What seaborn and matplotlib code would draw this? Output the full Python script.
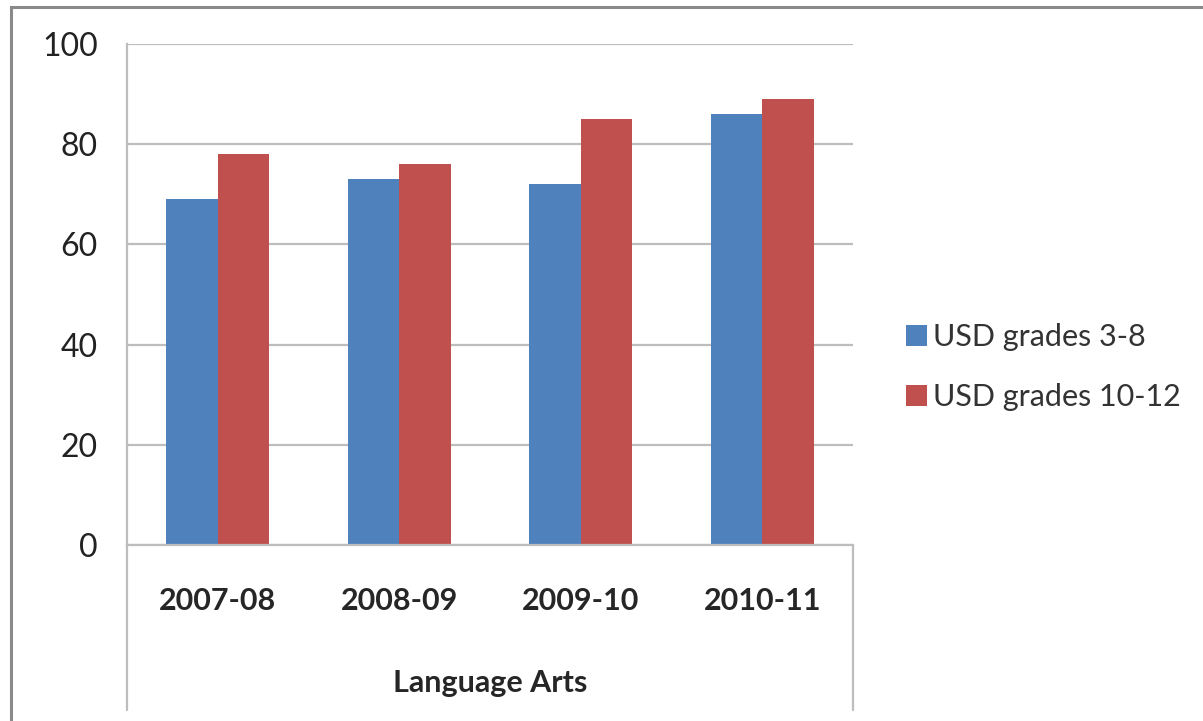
import pandas as pd
import numpy as np
import matplotlib
matplotlib.use("Agg")
import matplotlib.pyplot as plt
import seaborn as sns
from matplotlib.patches import Rectangle

# Data
YEARS = ["2007-08", "2008-09", "2009-10", "2010-11"]
SERIES = ["USD grades 3-8", "USD grades 10-12"]
GRADES_3_8 = [69, 73, 72, 86]
GRADES_10_12 = [78, 76, 85, 89]
COLORS = ["#4F81BD", "#C0504D"]
GROUP_LABEL = "Language Arts"

OUT_FILE = "out.png"

if __name__ == "__main__":
    sns.set_style("white")
    plt.rcParams["font.family"] = ["Lato", "DejaVu Sans"]

    df = pd.DataFrame({
        "Year": YEARS * 2,
        "Series": [SERIES[0]] * len(YEARS) + [SERIES[1]] * len(YEARS),
        "Score": GRADES_3_8 + GRADES_10_12,
    })

    fig = plt.figure(figsize=(12.03, 7.21), dpi=100)
    ax = fig.add_axes([127 / 1203, 1 - 545 / 721, (853 - 127) / 1203, (545 - 44) / 721])

    sns.barplot(data=df, x="Year", y="Score", hue="Series", order=YEARS,
                hue_order=SERIES, palette=COLORS, saturation=1, width=0.567,
                edgecolor="none", linewidth=0, ax=ax, legend=True)

    ax.set_xlim(-0.5, len(YEARS) - 0.5)
    ax.set_ylim(0, 100)
    ax.set_yticks(np.arange(0, 101, 20))
    ax.yaxis.grid(True, color="#BDBDBD", linewidth=1.6)
    ax.set_axisbelow(True)
    for side in ["top", "right"]:
        ax.spines[side].set_visible(False)
    for side in ["left", "bottom"]:
        ax.spines[side].set_color("#BDBDBD")
        ax.spines[side].set_linewidth(1.6)

    ax.tick_params(axis="y", length=0, pad=21, labelsize=23, labelcolor="#222222")
    ax.tick_params(axis="x", length=0, pad=30, labelsize=22)
    for lbl in ax.get_xticklabels():
        lbl.set_fontweight("bold")
    ax.set_xlabel("")
    ax.set_ylabel("")

    # outer category bracket lines
    for xv in [0, 1]:
        ax.plot([xv, xv], [0, -0.33], transform=ax.transAxes, color="#BDBDBD",
                linewidth=1.6, clip_on=False)
    ax.text(0.5, -0.276, GROUP_LABEL, transform=ax.transAxes, ha="center",
            va="center", fontsize=22, fontweight="bold")

    leg = ax.legend(loc="center left", bbox_to_anchor=(1.056, 0.355), frameon=False,
                    fontsize=22, handlelength=0.68, handleheight=0.68,
                    handletextpad=0.22, labelspacing=1.03, borderaxespad=0)
    for t in leg.get_texts():
        t.set_color("#333333")

    # outer chart frame
    fig.patches.append(Rectangle((11 / 1203, -0.1), 1.2, 1.1 - 7 / 721,
                                 transform=fig.transFigure, fill=False,
                                 edgecolor="#8A8A8A", linewidth=2.2))

    fig.savefig(OUT_FILE, dpi=100)
